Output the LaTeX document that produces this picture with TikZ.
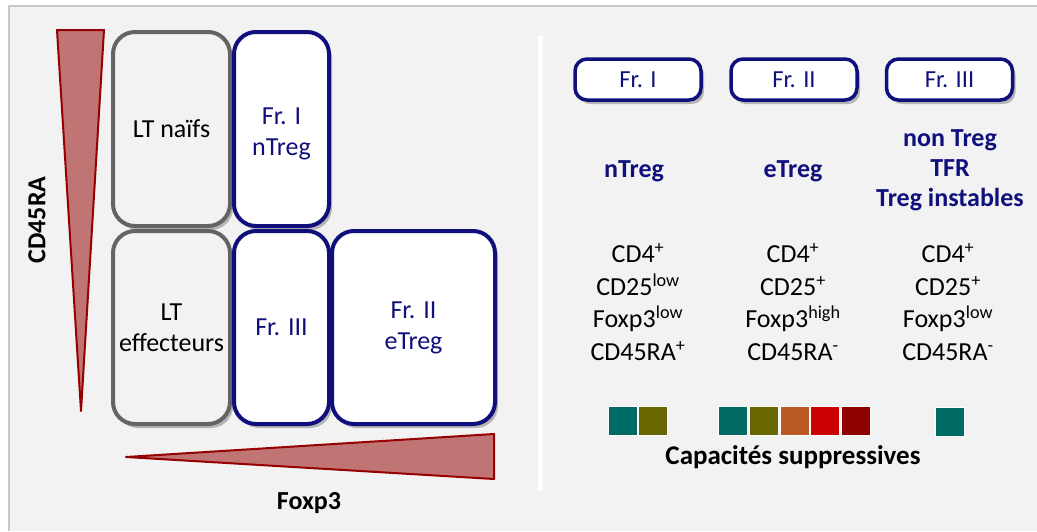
\documentclass[tikz,border=0pt]{standalone}
\usepackage{fontspec}
\setmainfont{Carlito}
\usetikzlibrary{shadows}
\definecolor{bggray}{RGB}{242,242,242}
\definecolor{framegray}{RGB}{200,200,200}
\definecolor{ltgray}{RGB}{100,100,100}
\definecolor{frnavy}{RGB}{16,16,124}
\definecolor{wedgefill}{RGB}{193,116,116}
\definecolor{wedgeline}{RGB}{150,0,0}
\definecolor{capteal}{RGB}{0,106,100}
\definecolor{capolive}{RGB}{104,102,0}
\definecolor{caporange}{RGB}{188,90,38}
\definecolor{capred}{RGB}{204,0,0}
\definecolor{capdark}{RGB}{144,0,0}
\begin{document}
\begin{tikzpicture}[x=1pt, y=-1pt, line join=round,
	every node/.style={inner sep=0pt, font=\fontsize{26}{31}\selectfont},
	softshadow/.style={drop shadow={shadow xshift=3pt, shadow yshift=-4pt, opacity=0.25, fill=black}},
	ltbox/.style={rectangle, rounded corners=22pt, draw=ltgray, line width=4pt, fill=bggray, softshadow, align=center},
	frbox/.style={rectangle, rounded corners=22pt, draw=frnavy, line width=4pt, fill=white, softshadow, align=center, text=frnavy},
	tabbox/.style={rectangle, rounded corners=12pt, draw=frnavy, line width=3.5pt, fill=white, softshadow, minimum width=126pt, minimum height=41pt, text=frnavy, font=\fontsize{24.5}{28}\selectfont},
	poplabel/.style={align=center, text=frnavy, font=\fontsize{26}{30}\bfseries\selectfont},
	markers/.style={align=center, font=\fontsize{26}{32.5}\selectfont},
	capsq/.style={rectangle, minimum size=29pt, draw=white, line width=0.8pt},
	wedge/.style={fill=wedgefill, draw=wedgeline, line width=2pt}]

	% background panel
	\useasboundingbox (0,0) rectangle (1037,531);
	\fill[white] (0,0) rectangle (1037,531);
	\fill[bggray] (9,6) rectangle (1037,531);
	\draw[framegray, line width=1.5pt] (1037,6) -- (9,6) -- (9,531);
	\draw[white, line width=5pt] (540,36) -- (540,491);

	% gradient wedges
	\draw[wedge] (57,30) -- (104,30) -- (81,411) -- cycle;
	\draw[wedge] (126,457) -- (494,434) -- (494,479) -- cycle;
	\node (cd45) at (37,220) [rotate=90, font=\fontsize{26}{31}\bfseries\selectfont] {CD45RA};
	\node (foxp3) at (309,503) [font=\fontsize{26}{31}\bfseries\selectfont] {Foxp3};

	% quadrants
	\node (naifs) at (171.5,129) [ltbox, minimum width=117pt, minimum height=194pt] {LT naïfs};
	\node (effect) at (171.5,327.5) [ltbox, minimum width=117pt, minimum height=193pt] {LT\\effecteurs};
	\node (frI) at (281.5,129) [frbox, minimum width=95pt, minimum height=194pt] {};
	\node (frItext) at (281.5,134) [align=center, text=frnavy] {Fr. I\\nTreg};
	\node (frIII) at (281.5,327.5) [frbox, minimum width=95pt, minimum height=193pt] {Fr. III};
	\node (frII) at (413.5,327.5) [frbox, minimum width=163pt, minimum height=193pt] {Fr. II\\eTreg};

	% fractions
	\node (tabI) at (638,79.5) [tabbox] {Fr. I};
	\node (tabII) at (794,79.5) [tabbox] {Fr. II};
	\node (tabIII) at (949.5,79.5) [tabbox] {Fr. III};

	\node (popI) at (634,171) [poplabel] {nTreg};
	\node (popII) at (793,171) [poplabel] {eTreg};
	\node (popIII) at (950,170) [poplabel] {non Treg\\TFR\\Treg instables};

	\node (mkI) at (638,302) [markers] {CD4\textsuperscript{+}\\CD25\textsuperscript{low}\\Foxp3\textsuperscript{low}\\CD45RA\textsuperscript{+}};
	\node (mkII) at (793,302) [markers] {CD4\textsuperscript{+}\\CD25\textsuperscript{+}\\Foxp3\textsuperscript{high}\\CD45RA\textsuperscript{-}};
	\node (mkIII) at (948,302) [markers] {CD4\textsuperscript{+}\\CD25\textsuperscript{+}\\Foxp3\textsuperscript{low}\\CD45RA\textsuperscript{-}};

	% suppressive capacity
	\node (sqIa) at (622.5,420.5) [capsq, fill=capteal] {};
	\node (sqIb) at (652.5,420.5) [capsq, fill=capolive] {};
	\node (sqIIa) at (732.5,420.5) [capsq, fill=capteal] {};
	\node (sqIIb) at (763.5,420.5) [capsq, fill=capolive] {};
	\node (sqIIc) at (794.5,420.5) [capsq, fill=caporange] {};
	\node (sqIId) at (825,420.5) [capsq, fill=capred] {};
	\node (sqIIe) at (855.5,420.5) [capsq, fill=capdark] {};
	\node (sqIIIa) at (949.5,421.5) [capsq, fill=capteal] {};
	\node (capac) at (793,457) [font=\fontsize{27}{31}\bfseries\selectfont] {Capacités suppressives};

\end{tikzpicture}
\end{document}
